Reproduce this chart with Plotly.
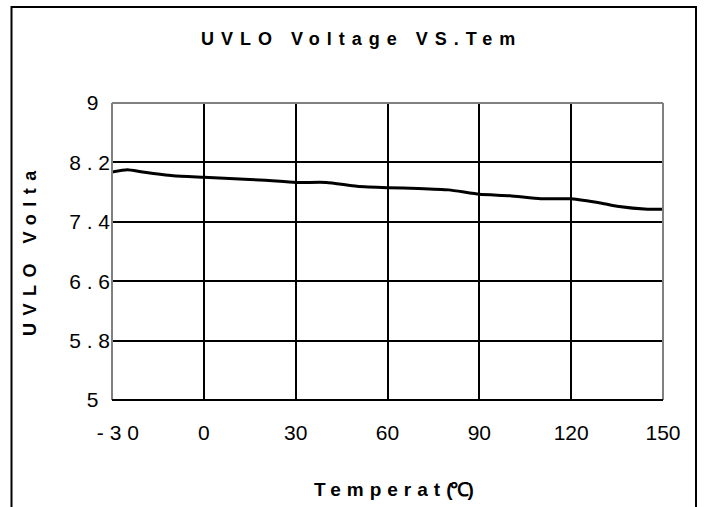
import plotly.graph_objects as go

# ---- data ----
temperature_c = [-30, -25, -20, -10, 0, 10, 20, 30, 40, 50, 60, 70, 80, 90, 100, 110, 120, 130, 135, 145, 150]
uvlo_voltage = [8.07, 8.10, 8.07, 8.02, 8.00, 7.98, 7.96, 7.93, 7.93, 7.88, 7.86, 7.85, 7.83, 7.77, 7.75, 7.71, 7.71, 7.65, 7.61, 7.57, 7.57]

NB = "\u00a0"
x_tick_vals = [-30, 0, 30, 60, 90, 120, 150]
x_tick_text = [NB + NB + "- 3 0", "0", "30", "60", "90", "120", "150"]
y_tick_vals = [5, 5.8, 6.6, 7.4, 8.2, 9]
y_tick_text = ["5" + NB + NB, "5 . 8", "6 . 6", "7 . 4", "8 . 2", "9" + NB + NB]

title_text = "UVLO Voltage VS.Tem"
y_title_text = "UVLO Volta"
x_title_main = "Temperat"
x_title_unit = "(℃)"

# ---- layout geometry (pixels) ----
W, H = 704, 507
L, R, T, B = 112, 41, 103, 107
PW, PH = W - L - R, H - T - B


def px_x(p):
    return (p - L) / PW


def px_y(p):
    return (H - B - p) / PH


FONT = "Liberation Sans, Arial, sans-serif"

fig = go.Figure()
fig.add_trace(go.Scatter(
    x=temperature_c, y=uvlo_voltage, mode="lines",
    line=dict(color="black", width=3, shape="spline", smoothing=0.5),
    hoverinfo="skip", showlegend=False,
))

fig.update_layout(
    width=W, height=H,
    margin=dict(l=L, r=R, t=T, b=B, pad=0),
    paper_bgcolor="white", plot_bgcolor="white",
    font=dict(family=FONT, color="black"),
    showlegend=False,
    xaxis=dict(
        range=[-30, 150], tickmode="array", tickvals=x_tick_vals, ticktext=x_tick_text,
        showgrid=True, gridcolor="black", gridwidth=1.6, zeroline=False,
        showline=False, ticks="", tickfont=dict(size=21, family=FONT),
        ticklabelstandoff=18, fixedrange=True,
    ),
    yaxis=dict(
        range=[5, 9], tickmode="array", tickvals=y_tick_vals, ticktext=y_tick_text,
        showgrid=True, gridcolor="black", gridwidth=1.6, zeroline=False,
        showline=False, ticks="", tickfont=dict(size=21, family=FONT),
        ticklabelstandoff=1, fixedrange=True,
    ),
    shapes=[
        # gray plot frame (top, left, right)
        dict(type="line", xref="paper", yref="paper", x0=0, x1=1, y0=1, y1=1,
             line=dict(color="#808080", width=2), layer="above"),
        dict(type="line", xref="paper", yref="paper", x0=0, x1=0, y0=0, y1=1,
             line=dict(color="#808080", width=2), layer="above"),
        dict(type="line", xref="paper", yref="paper", x0=1, x1=1, y0=0, y1=1,
             line=dict(color="#808080", width=2), layer="above"),
        # black bottom edge
        dict(type="line", xref="paper", yref="paper", x0=0, x1=1, y0=0, y1=0,
             line=dict(color="black", width=2), layer="above"),
        # outer chart border (bottom runs off the page)
        dict(type="rect", xref="paper", yref="paper",
             x0=px_x(11.5), x1=px_x(696), y0=px_y(520), y1=px_y(7),
             line=dict(color="black", width=2), fillcolor="rgba(0,0,0,0)", layer="above"),
    ],
    annotations=[
        dict(xref="paper", yref="paper", x=px_x(361), y=px_y(39), showarrow=False,
             xanchor="center", yanchor="middle",
             text=f'<span style="letter-spacing:7px"><b>{title_text}</b></span>',
             font=dict(size=18, family=FONT, color="black")),
        dict(xref="paper", yref="paper", x=px_x(30), y=px_y(250), showarrow=False,
             xanchor="center", yanchor="middle", textangle=-90,
             text=f'<span style="letter-spacing:7.5px"><b>{y_title_text}</b></span>',
             font=dict(size=18, family=FONT, color="black")),
        dict(xref="paper", yref="paper", x=px_x(393), y=px_y(489), showarrow=False,
             xanchor="center", yanchor="middle",
             text=(f'<span style="letter-spacing:6px"><b>{x_title_main}</b></span>'
                   f'<span style="letter-spacing:-2px"><b>{x_title_unit}</b></span>'),
             font=dict(size=19, family=FONT, color="black")),
    ],
)

fig.write_html("out.html", config={"displayModeBar": False},
               post_script="document.body.style.margin='0';")
